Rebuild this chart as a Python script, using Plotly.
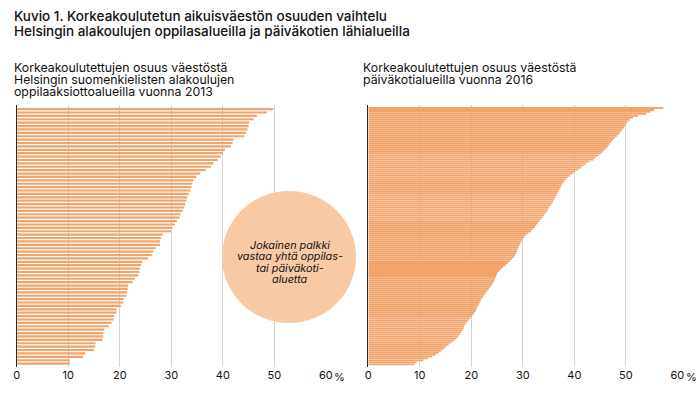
import plotly.graph_objects as go

# ---------------- data ----------------
school_share_2013 = [
    49.8, 48.5, 46.6, 46.0, 45.1, 45.0, 44.8, 44.5, 44.2, 42.1, 41.9, 41.6,
    40.4, 40.0, 39.6, 39.0, 38.2, 37.7, 36.7, 35.6, 34.8, 34.3, 34.1, 33.9,
    33.7, 33.4, 33.1, 32.9, 32.7, 32.5, 32.2, 31.8, 31.6, 31.1, 30.7, 30.2,
    29.9, 28.3, 28.0, 27.8, 27.8, 27.0, 26.5, 26.2, 25.5, 24.4, 24.1, 23.9,
    23.8, 23.6, 22.9, 22.5, 21.6, 21.5, 21.4, 21.3, 20.8, 20.7, 20.2, 19.4,
    19.3, 18.9, 18.8, 18.4, 17.9, 17.0, 16.8, 16.8, 16.6, 15.3, 15.2, 15.0,
    13.3, 12.9, 10.3, 10.3,
]

daycare_share_2016 = [
    57.3, 55.5, 54.8, 54.0, 52.4, 51.4, 50.8, 50.3, 50.1, 49.8, 49.6, 49.3,
    49.0, 48.7, 48.3, 47.9, 47.5, 47.2, 46.9, 46.6, 46.3, 45.9, 45.5, 45.1,
    44.6, 44.1, 43.7, 42.9, 42.3, 41.8, 41.3, 40.8, 40.2, 39.7, 39.2, 38.7,
    38.3, 38.0, 37.7, 37.5, 37.3, 37.1, 36.9, 36.7, 36.5, 36.3, 36.1, 35.9,
    35.7, 35.4, 35.1, 34.9, 34.7, 34.4, 34.1, 33.8, 33.5, 33.2, 32.9, 32.6,
    32.3, 31.9, 31.6, 31.1, 30.6, 30.3, 30.0, 29.8, 29.6, 29.4, 29.2, 29.0,
    28.9, 28.7, 28.5, 28.3, 27.9, 27.5, 27.1, 26.7, 26.2, 25.8, 25.4, 25.1,
    24.9, 24.8, 24.6, 24.4, 24.2, 24.0, 23.7, 23.4, 23.1, 22.8, 22.5, 22.3,
    22.0, 21.8, 21.6, 21.4, 21.2, 21.0, 20.9, 20.6, 20.3, 20.0, 19.7, 19.4,
    19.1, 18.8, 18.6, 18.5, 18.3, 18.0, 17.7, 17.4, 17.1, 16.6, 16.1, 15.6,
    15.1, 14.7, 14.2, 13.7, 13.1, 12.4, 11.6, 10.7, 9.4, 8.9,
]

tick_values = [0, 10, 20, 30, 40, 50, 60]
tick_labels = ["0", "10", "20", "30", "40", "50", "60"]

title_lines = [
    "Kuvio 1. Korkeakoulutetun aikuisväestön osuuden vaihtelu",
    "Helsingin alakoulujen oppilasalueilla ja päiväkotien lähialueilla",
]
left_subtitle = [
    "Korkeakoulutettujen osuus väestöstä",
    "Helsingin suomenkielisten alakoulujen",
    "oppilaaksiottoalueilla vuonna 2013",
]
right_subtitle = [
    "Korkeakoulutettujen osuus väestöstä",
    "päiväkotialueilla vuonna 2016",
]
bubble_lines = [
    "Jokainen palkki",
    "vastaa yhtä oppilas-",
    "tai päiväkoti-",
    "aluetta",
]

# ---------------- styling ----------------
W, H = 700, 399
FONT = "Inter"
BAR = "rgba(242,164,107,0.999)"
BUBBLE = "#F9C9A4"
GRID = "#D3D3D3"
AXIS = "#2A2A2A"


def px(x):
    return x / W


def py(y):
    return 1 - y / H


fig = go.Figure()
fig.add_trace(go.Bar(
    x=school_share_2013, y=list(range(len(school_share_2013))),
    orientation="h", width=0.64, marker=dict(color=BAR, line=dict(width=0)),
    xaxis="x", yaxis="y", hovertemplate="%{x} %<extra></extra>",
))
fig.add_trace(go.Bar(
    x=daycare_share_2016, y=list(range(len(daycare_share_2016))),
    orientation="h", width=0.92, marker=dict(color=BAR, line=dict(width=0)),
    xaxis="x2", yaxis="y2", hovertemplate="%{x} %<extra></extra>",
))

y_dom = [py(367), py(105)]
common_x = dict(
    range=[0, 60], tickmode="array", tickvals=tick_values, ticktext=tick_labels,
    showgrid=True, gridcolor=GRID, gridwidth=1, zeroline=False, showline=False,
    ticks="", tickfont=dict(family=FONT, size=11, color="#111"), fixedrange=True,
    automargin=False,
)
common_y = dict(
    showticklabels=False, showgrid=False, zeroline=False, showline=True,
    linecolor=AXIS, linewidth=1, ticks="", fixedrange=True, domain=y_dom,
    automargin=False,
)

fig.update_layout(
    width=W, height=H,
    margin=dict(l=0, r=0, t=0, b=0, pad=0, autoexpand=False),
    paper_bgcolor="white", plot_bgcolor="white",
    showlegend=False, bargap=0.2,
    xaxis=dict(domain=[px(16.8), px(325.8)], anchor="y", **common_x),
    yaxis=dict(range=[len(school_share_2013) + 0.0, -1.2], anchor="x", **common_y),
    xaxis2=dict(domain=[px(368.3), px(677.3)], anchor="y2", **common_x),
    yaxis2=dict(range=[len(daycare_share_2016) + 0.3, -1.5], anchor="x2", **common_y),
)

# bubble
fig.add_shape(
    type="circle", xref="paper", yref="paper",
    x0=px(222), x1=px(356), y0=py(323), y1=py(191),
    fillcolor=BUBBLE, line=dict(width=0), layer="above",
)

ann = []
for i, t in enumerate(title_lines):
    ann.append(dict(text=t, x=px(11.5), y=py(16 + 15 * i), xanchor="left", yanchor="middle",
                    font=dict(family=FONT, size=13.5, color="#111", weight=500)))
for i, t in enumerate(left_subtitle):
    ann.append(dict(text=t, x=px(11.5), y=py(67 + 12.3 * i), xanchor="left", yanchor="middle",
                    font=dict(family=FONT, size=12.3, color="#111")))
for i, t in enumerate(right_subtitle):
    ann.append(dict(text=t, x=px(360.5), y=py(67 + 12.3 * i), xanchor="left", yanchor="middle",
                    font=dict(family=FONT, size=12.3, color="#111")))
for i, t in enumerate(bubble_lines):
    ann.append(dict(text="<i>" + t + "</i>", x=px(290), y=py(245 + 11.6 * i), xanchor="center",
                    yanchor="middle", font=dict(family=FONT, size=10.8, color="#111")))
for xr in ("x", "x2"):
    ann.append(dict(text="%", xref=xr, yref="paper", x=60, xshift=6.5, y=py(377),
                    xanchor="left", yanchor="middle",
                    font=dict(family=FONT, size=11, color="#111")))
for a in ann:
    a.setdefault("xref", "paper")
    a.setdefault("yref", "paper")
    a["showarrow"] = False
fig.update_layout(annotations=ann)

fig.write_html(
    "out.html",
    config={"displayModeBar": False},
    post_script="document.body.style.margin='0';document.body.style.padding='0';",
)
